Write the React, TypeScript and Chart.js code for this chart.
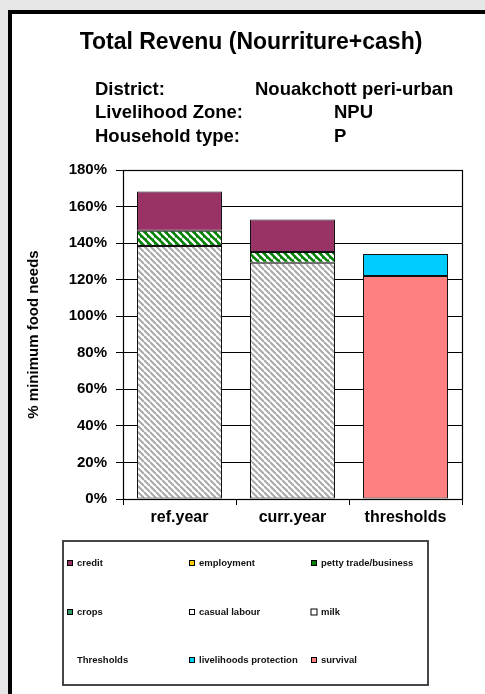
import React, { useEffect, useRef } from "react";
import { Chart, registerables } from "chart.js";

Chart.register(...registerables);

const categories = ["ref.year", "curr.year", "thresholds"];
const casualLabour = [138.4, 129.2, null];
const milk = [null, null, null];
const crops = [null, null, null];
const pettyTrade = [8.3, 6.0, null];
const employment = [null, null, null];
const credit = [21.5, 17.7, null];
const survival = [null, null, 122];
const livelihoodsProtection = [null, null, 12];
const thresholdsLabel = [null, null, null];

const yTicks = [0, 20, 40, 60, 80, 100, 120, 140, 160, 180];

const titleText = "Total Revenu (Nourriture+cash)";
const infoLabels = ["District:", "Livelihood Zone:", "Household type:"];
const infoValues = ["Nouakchott peri-urban", "NPU", "P"];
const yAxisTitle = "% minimum food needs";

const legendOrder = [
  "credit", "employment", "petty trade/business",
  "crops", "casual labour", "milk",
  "Thresholds", "livelihoods protection", "survival",
];

const FONT = "'Liberation Sans', Arial, sans-serif";

function hatch(bg: string, fg: string, p: number, lw: number) {
  const c = document.createElement("canvas");
  c.width = p;
  c.height = p;
  const x = c.getContext("2d")!;
  x.fillStyle = bg;
  x.fillRect(0, 0, p, p);
  x.strokeStyle = fg;
  x.lineWidth = lw;
  for (const k of [-1, 0, 1]) {
    x.beginPath();
    x.moveTo(0, k * p);
    x.lineTo(p, p + k * p);
    x.stroke();
  }
  return x.createPattern(c, "repeat")!;
}

export default function App() {
  const ref = useRef<HTMLCanvasElement>(null);

  useEffect(() => {
    const canvas = ref.current!;
    const greyHatch = hatch("#ffffff", "#a8a8a8", 6, 2);
    const greenHatch = hatch("#008000", "#ffffff", 7, 2.4);

    const markerColors: Record<string, string | null> = {
      credit: "#993366",
      employment: "#FFCC00",
      "petty trade/business": "#008000",
      crops: "#339966",
      "casual labour": "#ffffff",
      milk: "#ffffff",
      Thresholds: null,
      "livelihoods protection": "#00CCFF",
      survival: "#FF8080",
    };

    const ds = (label: string, data: (number | null)[], bg: any) => ({
      label,
      data,
      backgroundColor: bg,
      borderColor: "#111111",
      borderWidth: 1,
      borderSkipped: false,
      stack: "s",
      barPercentage: 0.752,
      categoryPercentage: 1,
    });

    const decor = {
      id: "decor",
      beforeDraw(chart: any) {
        const c = chart.ctx;
        c.save();
        c.fillStyle = "#e6e6e6";
        c.fillRect(0, 0, 485, 694);
        c.fillStyle = "#ffffff";
        c.fillRect(8, 10, 477, 684);
        c.fillStyle = "#000000";
        c.fillRect(8, 10, 477, 4);
        c.fillRect(8, 10, 4, 684);
        // Title
        c.fillStyle = "#000";
        c.textBaseline = "middle";
        c.textAlign = "center";
        c.font = `bold 23px ${FONT}`;
        c.fillText(titleText, 251, 43);
        c.font = `bold 18.5px ${FONT}`;
        c.textAlign = "left";
        const ys = [90, 113, 137];
        const vx = [255, 334, 334];
        infoLabels.forEach((t, i) => c.fillText(t, 95, ys[i]));
        infoValues.forEach((t, i) => c.fillText(t, vx[i], ys[i]));
        c.restore();
      },
      afterDatasetsDraw(chart: any) {
        const c = chart.ctx;
        const a = chart.chartArea;
        c.save();
        c.strokeStyle = "#000";
        c.lineWidth = 1.2;
        c.strokeRect(Math.round(a.left) + 0.5, Math.round(a.top) + 0.5, Math.round(a.right - a.left), Math.round(a.bottom - a.top));
        c.restore();
      },
      afterDraw(chart: any) {
        const c = chart.ctx;
        c.save();
        c.strokeStyle = "#333";
        c.lineWidth = 1.8;
        c.strokeRect(63, 541, 365, 144);
        const colX = [70, 192, 314];
        const rowY = [563, 612, 660];
        c.font = `bold 9.5px ${FONT}`;
        c.textBaseline = "middle";
        c.textAlign = "left";
        legendOrder.forEach((name, i) => {
          const x = colX[i % 3];
          const y = rowY[Math.floor(i / 3)];
          const col = markerColors[name];
          if (col) {
            const s = name === "milk" ? 6 : 5;
            c.fillStyle = col;
            c.fillRect(x - s / 2, y - s / 2, s, s);
            c.strokeStyle = "#000";
            c.lineWidth = 1;
            c.strokeRect(x - s / 2, y - s / 2, s, s);
          }
          c.fillStyle = "#111";
          c.fillText(name, x + 7, y);
        });
        c.restore();
      },
    };

    const chart = new Chart(canvas, {
      type: "bar",
      data: {
        labels: categories,
        datasets: [
          ds("casual labour", casualLabour, greyHatch),
          ds("milk", milk, "#ffffff"),
          ds("crops", crops, "#339966"),
          ds("petty trade/business", pettyTrade, greenHatch),
          ds("employment", employment, "#FFCC00"),
          ds("credit", credit, "#993366"),
          ds("survival", survival, "#FF8080"),
          ds("livelihoods protection", livelihoodsProtection, "#00CCFF"),
          ds("Thresholds", thresholdsLabel, "rgba(0,0,0,0)"),
        ],
      },
      options: {
        responsive: false,
        animation: false,
        layout: { padding: { left: 0, right: 23, top: 170, bottom: 155 } },
        plugins: {
          legend: { display: false },
          tooltip: { enabled: false },
          title: { display: false },
        },
        scales: {
          x: {
            stacked: true,
            offset: true,
            afterFit: (s: any) => { s.height = 40; },
            grid: { offset: true, drawOnChartArea: false, drawTicks: true, tickLength: 6, color: "#000" },
            border: { color: "#000", width: 1 },
            ticks: { color: "#000", padding: 3, font: { family: FONT, size: 16, weight: "bold" } },
          },
          y: {
            stacked: true,
            min: 0,
            max: 180,
            afterFit: (s: any) => { s.width = 123; },
            afterBuildTicks: (s: any) => { s.ticks = yTicks.map((v) => ({ value: v })); },
            grid: { color: "#000", lineWidth: 1, tickLength: 7 },
            border: { color: "#000", width: 1 },
            ticks: {
              color: "#000",
              padding: 9,
              font: { family: FONT, size: 15, weight: "bold" },
              callback: (v: any) => v + "%",
            },
            title: {
              display: true,
              text: yAxisTitle,
              color: "#000",
              padding: { top: 25, bottom: 0 },
              font: { family: FONT, size: 15, weight: "bold" },
            },
          },
        },
      },
      plugins: [decor],
    });
    return () => chart.destroy();
  }, []);

  return (
    <div style={{ position: "absolute", left: 0, top: 0, width: 485, height: 694 }}>
      <canvas ref={ref} width={485} height={694} style={{ display: "block" }} />
    </div>
  );
}
